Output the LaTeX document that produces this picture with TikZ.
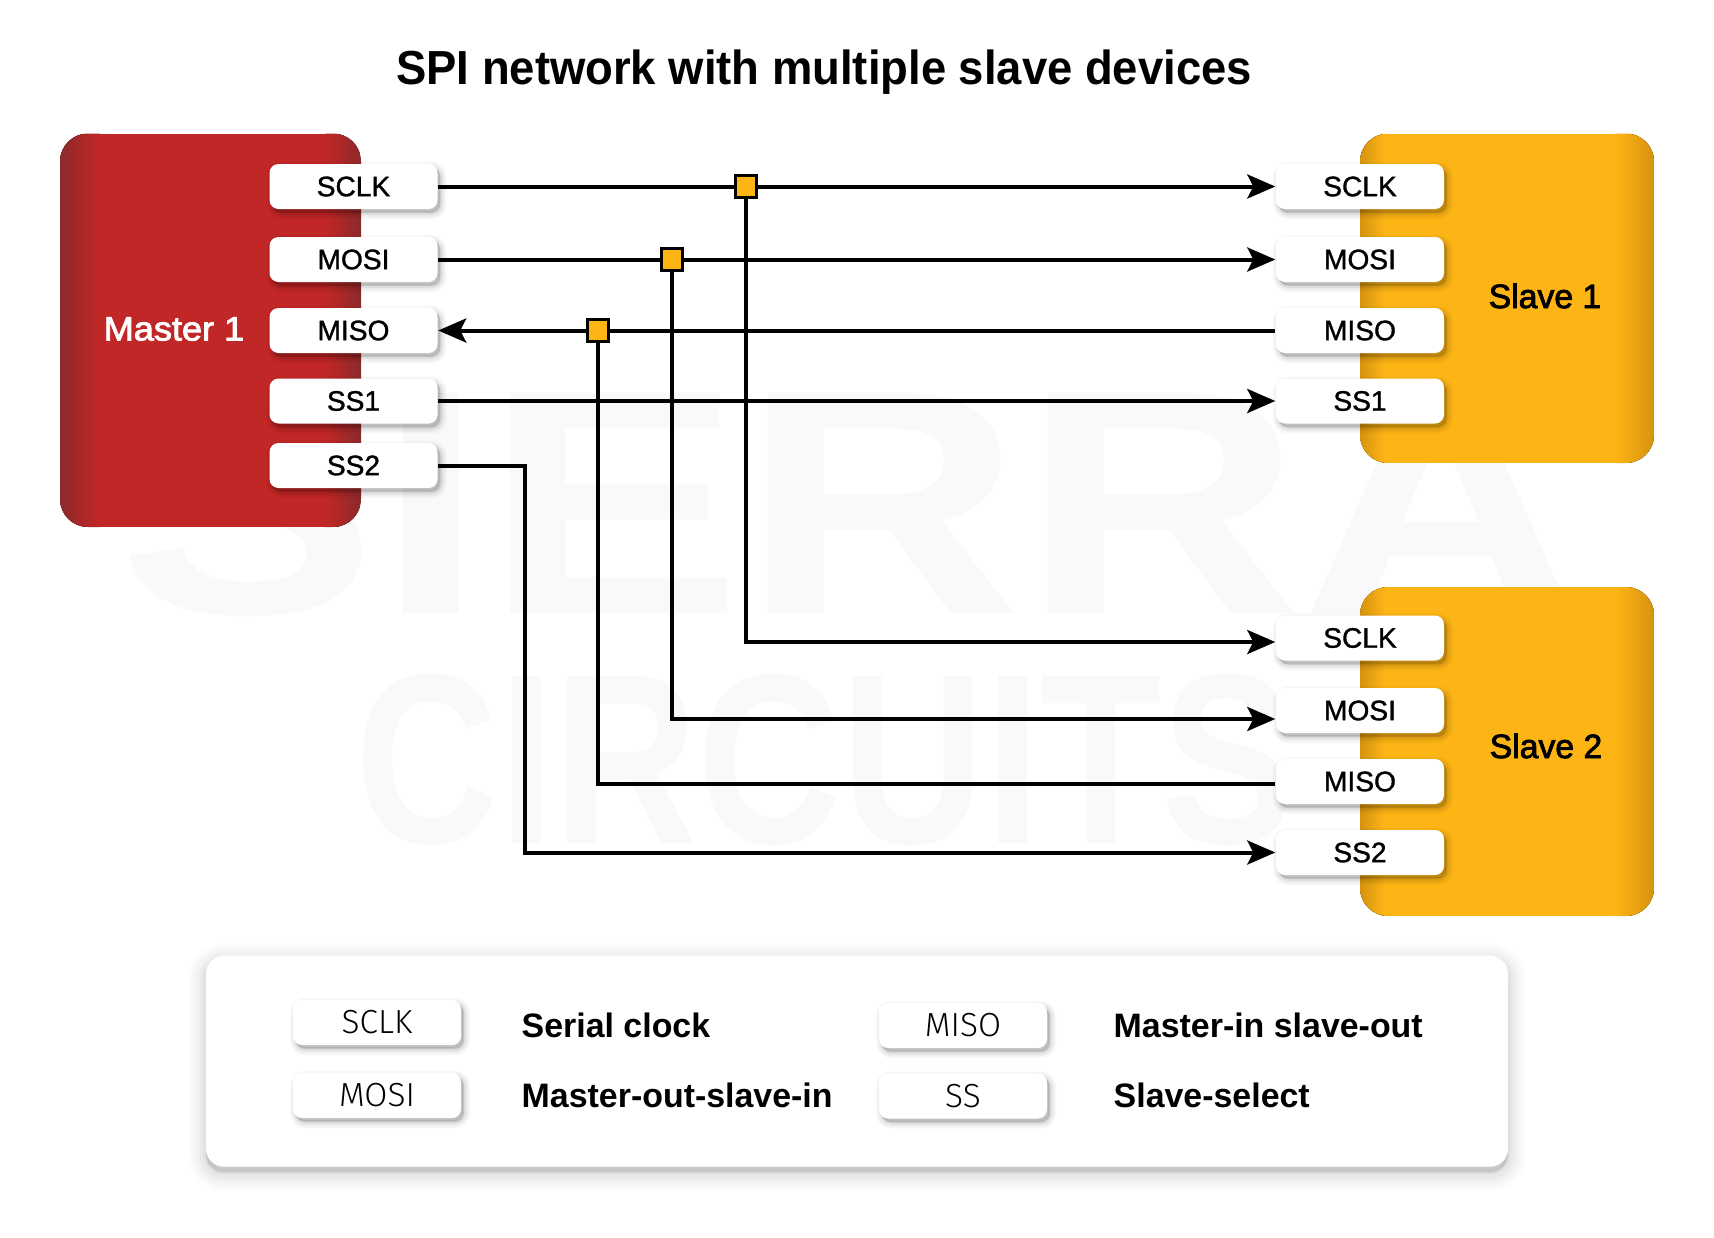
\documentclass[tikz,border=0pt]{standalone}
\usepackage{fontspec}
\setmainfont{Liberation Sans}
\newfontfamily\medfont[FakeBold=1.2]{Liberation Sans}
\newfontfamily\strongfont[FakeBold=2.4]{Liberation Sans}
\newfontfamily\lightfont[UprightFont={* Light}]{Fira Sans}
\usetikzlibrary{arrows.meta,shadows}
\definecolor{masterred}{HTML}{C12726}
\definecolor{masterdark}{HTML}{8C2A2A}
\definecolor{slaveyellow}{HTML}{FDB515}
\definecolor{slavedark}{HTML}{D5930F}
\definecolor{markgray}{HTML}{F9F9F9}
\tikzset{
    softshadow/.style={
        general shadow={shadow xshift=0.03cm,shadow yshift=-0.04cm,draw=black,fill=black,line width=0.12cm,opacity=.03},
        general shadow={shadow xshift=0.03cm,shadow yshift=-0.04cm,draw=black,fill=black,line width=0.08cm,opacity=.04},
        general shadow={shadow xshift=0.03cm,shadow yshift=-0.04cm,draw=black,fill=black,line width=0.04cm,opacity=.06},
        general shadow={shadow xshift=0.02cm,shadow yshift=-0.03cm,fill=black,opacity=.07}},
    pin/.style={softshadow, fill=white, rounded corners=0.09cm, minimum width=1.68cm, minimum height=0.45cm, inner sep=0pt, font=\medfont\fontsize{8}{10}\selectfont},
    keypin/.style={pin, font=\lightfont\fontsize{9.5}{11}\selectfont},
    keytext/.style={anchor=west, inner sep=0pt, font=\bfseries\fontsize{9.65}{11}\selectfont},
    blockname/.style={inner sep=0pt, font=\strongfont\fontsize{9.6}{12}\selectfont},
    junction/.style={draw=black, line width=0.035cm, fill=slaveyellow, minimum width=0.21cm, minimum height=0.22cm, inner sep=0pt},
    wire/.style={line width=0.04cm, black},
    sig/.style={wire, -{Stealth[length=0.28cm,width=0.24cm,inset=0.06cm]}},
    revsig/.style={wire, {Stealth[length=0.28cm,width=0.24cm,inset=0.06cm]}-}
}
\begin{document}
\begin{tikzpicture}
    \useasboundingbox (0,0) rectangle (17.14,-12.38);
    \fill[white] (0,0) rectangle (17.14,-12.38);
    % watermark
    \node(mark1)[text=markgray, xscale=1.21, font=\bfseries\fontsize{91}{100}\selectfont] at(8.5,-5.03) {SIERRA};
    \node(mark2)[text=markgray, xscale=0.82, font=\bfseries\fontsize{69}{80}\selectfont] at(8.25,-7.6) {CIRCUITS};
    \node(title)[xscale=0.95, font=\bfseries\fontsize{13.6}{16}\selectfont] at(8.24,-0.72) {SPI network with multiple slave devices};
    % blocks
    \begin{scope}
        \clip[rounded corners=0.28cm] (0.6,-1.335) rectangle (3.61,-5.27);
        \fill[masterred] (0.6,-1.335) rectangle (3.61,-5.27);
        \fill[left color=masterdark, right color=masterred] (0.6,-1.335) rectangle (1.0,-5.27);
        \fill[left color=masterred, right color=masterdark] (3.25,-1.335) rectangle (3.61,-5.27);
    \end{scope}
    \begin{scope}
        \clip[rounded corners=0.28cm] (13.6,-1.335) rectangle (16.54,-4.63);
        \fill[slaveyellow] (13.6,-1.335) rectangle (16.54,-4.63);
        \fill[left color=slavedark, right color=slaveyellow] (13.6,-1.335) rectangle (13.85,-4.63);
        \fill[left color=slaveyellow, right color=slavedark] (16.15,-1.335) rectangle (16.54,-4.63);
    \end{scope}
    \begin{scope}
        \clip[rounded corners=0.28cm] (13.6,-5.87) rectangle (16.54,-9.16);
        \fill[slaveyellow] (13.6,-5.87) rectangle (16.54,-9.16);
        \fill[left color=slavedark, right color=slaveyellow] (13.6,-5.87) rectangle (13.85,-9.16);
        \fill[left color=slaveyellow, right color=slavedark] (16.15,-5.87) rectangle (16.54,-9.16);
    \end{scope}
    \node(master)[blockname, xscale=1.07, text=white] at(1.74,-3.29) {Master 1};
    \node(slaveone)[blockname] at(15.45,-2.96) {Slave 1};
    \node(slavetwo)[blockname] at(15.46,-7.46) {Slave 2};
    % master pins
    \node(msclk)[pin] at(3.535,-1.865) {SCLK};
    \node(mmosi)[pin] at(3.535,-2.595) {MOSI};
    \node(mmiso)[pin] at(3.535,-3.305) {MISO};
    \node(mss1)[pin] at(3.535,-4.01) {SS1};
    \node(mss2)[pin] at(3.535,-4.655) {SS2};
    % slave 1 pins
    \node(asclk)[pin] at(13.6,-1.865) {SCLK};
    \node(amosi)[pin] at(13.6,-2.595) {MOSI};
    \node(amiso)[pin] at(13.6,-3.305) {MISO};
    \node(ass1)[pin] at(13.6,-4.01) {SS1};
    % slave 2 pins
    \node(bsclk)[pin] at(13.6,-6.38) {SCLK};
    \node(bmosi)[pin] at(13.6,-7.105) {MOSI};
    \node(bmiso)[pin] at(13.6,-7.815) {MISO};
    \node(bss2)[pin] at(13.6,-8.525) {SS2};
    % junctions
    \node(jsclk)[junction] at(7.46,-1.865) {};
    \node(jmosi)[junction] at(6.72,-2.595) {};
    \node(jmiso)[junction] at(5.98,-3.305) {};
    \coordinate(turn) at(5.25,-8.525);
    % wires
    \draw[wire] (msclk.east) -- (jsclk.west);
    \draw[sig] (jsclk.east) -- (asclk.west);
    \draw[wire] (mmosi.east) -- (jmosi.west);
    \draw[sig] (jmosi.east) -- (amosi.west);
    \draw[revsig] (mmiso.east) -- (jmiso.west);
    \draw[wire] (jmiso.east) -- (amiso.west);
    \draw[sig] (mss1.east) -- (ass1.west);
    \draw[sig] (jsclk.south) |- ([yshift=-0.04cm]bsclk.west);
    \draw[sig] (jmosi.south) |- ([yshift=-0.085cm]bmosi.west);
    \draw[wire] (jmiso.south) |- ([yshift=-0.025cm]bmiso.west);
    \draw[sig] (mss2.east) -| (turn) -- (bss2.west);
    % legend
    \node(legend)[fill=white, rounded corners=0.18cm, minimum width=13.02cm, minimum height=2.11cm, inner sep=0pt,
        general shadow={shadow yshift=-0.06cm,draw=black,fill=black,line width=0.36cm,opacity=.012},
        general shadow={shadow yshift=-0.06cm,draw=black,fill=black,line width=0.30cm,opacity=.014},
        general shadow={shadow yshift=-0.06cm,draw=black,fill=black,line width=0.24cm,opacity=.016},
        general shadow={shadow yshift=-0.06cm,draw=black,fill=black,line width=0.18cm,opacity=.02},
        general shadow={shadow yshift=-0.06cm,draw=black,fill=black,line width=0.12cm,opacity=.025},
        general shadow={shadow yshift=-0.05cm,draw=black,fill=black,line width=0.06cm,opacity=.03}] at(8.57,-10.612) {};
    \node(ksclk)[keypin] at(3.77,-10.225) {SCLK};
    \node(kmosi)[keypin] at(3.77,-10.955) {MOSI};
    \node(kmiso)[keypin] at(9.63,-10.255) {MISO};
    \node(kss)[keypin] at(9.63,-10.96) {SS};
    \node(tsclk)[keytext] at(5.21,-10.25) {Serial clock};
    \node(tmosi)[keytext] at(5.21,-10.95) {Master-out-slave-in};
    \node(tmiso)[keytext] at(11.13,-10.25) {Master-in slave-out};
    \node(tss)[keytext] at(11.13,-10.95) {Slave-select};
\end{tikzpicture}
\end{document}
